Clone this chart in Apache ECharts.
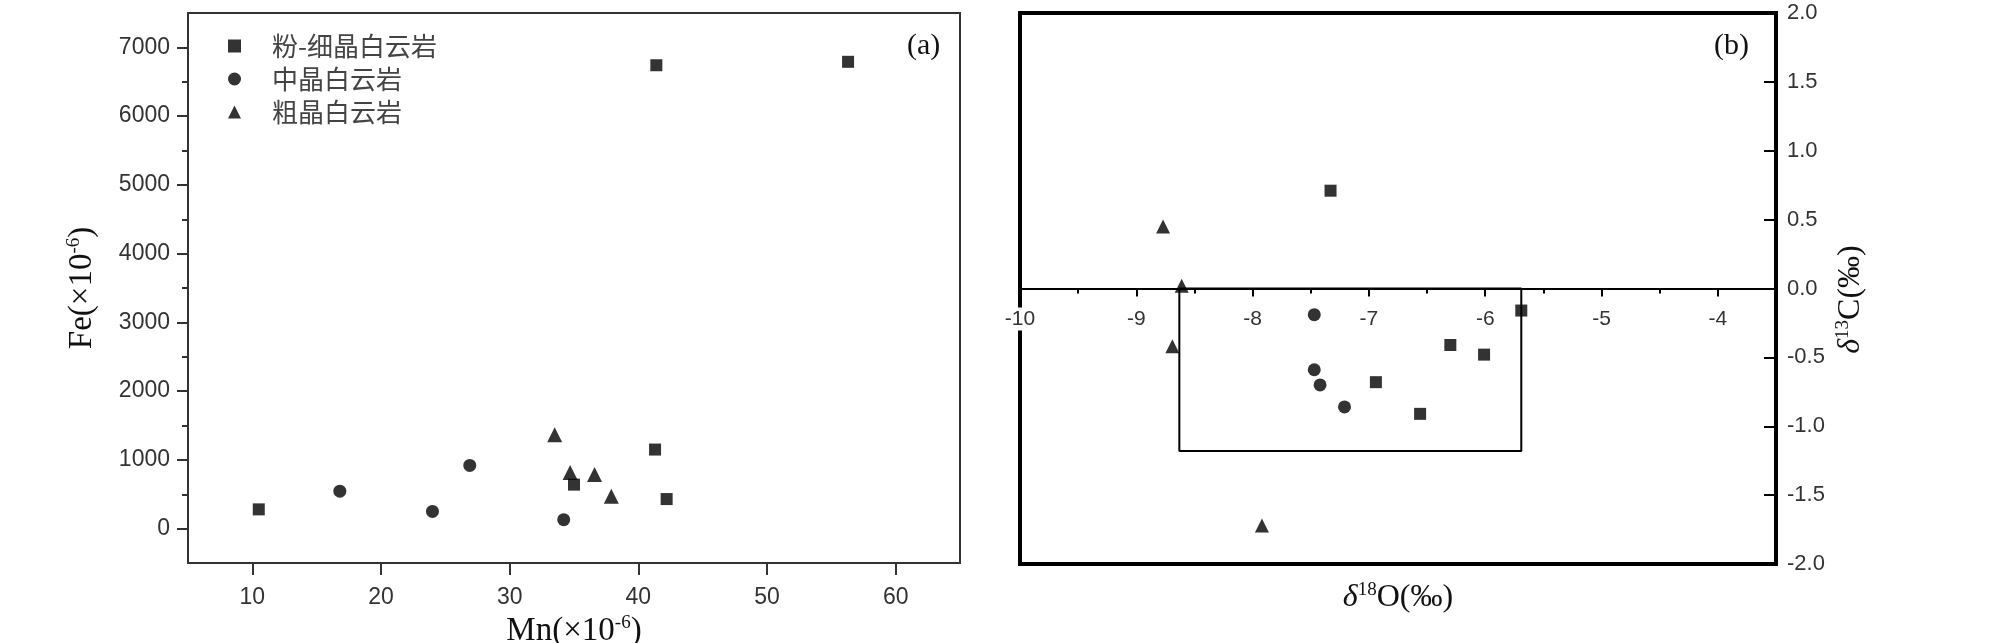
<!DOCTYPE html>
<html>
<head>
<meta charset="utf-8">
<script src="https://cdn.jsdelivr.net/npm/echarts@6/dist/echarts.min.js"></script>
<style>
  html, body { margin: 0; padding: 0; background: #fff; }
  #main { width: 2008px; height: 643px; }
</style>
</head>
<body>
<div id="main"></div>
<script>
// (a) Mn - Fe
var names = ['粉-细晶白云岩', '中晶白云岩', '粗晶白云岩'];
var mnSq = [41.4, 56.3, 41.3, 35.0, 42.2, 10.5];
var feSq = [6740, 6790, 1150, 640, 430, 280];
var mnCi = [16.8, 24.0, 26.9, 34.2];
var feCi = [545, 250, 920, 130];
var mnTr = [33.5, 34.7, 36.6, 37.9];
var feTr = [1366, 817, 787, 471];
var mnTicks = [10, 20, 30, 40, 50, 60];
var feTicks = [0, 1000, 2000, 3000, 4000, 5000, 6000, 7000];
var feMinor = [500, 1500, 2500, 3500, 4500, 5500, 6500];

// (b) d18O - d13C
var oSq = [-7.33, -5.69, -6.30, -6.01, -6.94, -6.56];
var cSq = [0.71, -0.16, -0.41, -0.48, -0.68, -0.91];
var oCi = [-7.47, -7.47, -7.42, -7.21];
var cCi = [-0.19, -0.59, -0.70, -0.86];
var oTr = [-8.77, -8.61, -8.69, -7.92];
var cTr = [0.45, 0.02, -0.42, -1.72];
var boxO = [-8.63, -8.63, -5.69, -5.69, -8.63];
var boxC = [0, -1.18, -1.18, 0, 0];
var oTicks = [-10, -9, -8, -7, -6, -5, -4];
var oMinor = [-9.5, -8.5, -7.5, -6.5, -5.5, -4.5];

function pts(xs, ys) {
    return xs.map(function(x, i) { return [x, ys[i]]; });
}

var serif = 'Liberation Serif';
var sans = 'Liberation Sans';
var supRich = {
    sup: { fontFamily: serif, fontSize: 19, verticalAlign: 'top', lineHeight: 34 },
    it: { fontFamily: serif, fontSize: 32, fontStyle: 'italic', lineHeight: 34 }
};
var hidden = { show: false };

var chart = echarts.init(document.getElementById('main'));
var option = {
    animation: false,
    backgroundColor: '#fff',
    title: [
        { text: '(a)', left: 902, top: 26, textStyle: { fontFamily: serif, fontSize: 30, fontWeight: 'normal', color: '#111' } },
        { text: '(b)', left: 1709, top: 26, textStyle: { fontFamily: serif, fontSize: 30, fontWeight: 'normal', color: '#111' } }
    ],
    legend: {
        orient: 'vertical',
        left: 228,
        top: 33,
        padding: 0,
        itemWidth: 13,
        itemHeight: 13,
        itemGap: 7,
        data: names,
        textStyle: { fontFamily: 'Noto Sans CJK SC', fontSize: 26, color: '#444', padding: [0, 0, 0, 26] }
    },
    grid: [
        { left: 188, top: 13, width: 772, height: 550, show: true, borderColor: '#333', borderWidth: 2, outerBoundsMode: 'none' },
        { left: 1020, top: 13, width: 756, height: 551, show: true, borderColor: '#000', borderWidth: 4, outerBoundsMode: 'none' },
        // strip whose bottom edge is the zero line of panel (b)
        { left: 1020, top: 13, width: 756, height: 275.5, show: false, outerBoundsMode: 'none' }
    ],
    xAxis: [
        {
            gridIndex: 0, type: 'value', min: 5, max: 65,
            name: 'Mn(×10{sup|-6})', nameLocation: 'middle', nameGap: 43,
            nameTextStyle: { fontFamily: serif, fontSize: 33, color: '#111', rich: supRich },
            axisLine: { onZero: false, lineStyle: { color: '#333', width: 2 } },
            axisTick: { customValues: mnTicks, length: 12, lineStyle: { color: '#333', width: 2 } },
            axisLabel: { customValues: mnTicks, margin: 23, fontFamily: sans, fontSize: 23, color: '#333' },
            splitLine: hidden
        },
        {
            gridIndex: 1, type: 'value', min: -10, max: -3.5, position: 'bottom',
            name: '{it|δ}{sup|18}O(‰)', nameLocation: 'middle', nameGap: 17,
            nameTextStyle: { fontFamily: serif, fontSize: 32, color: '#111', rich: supRich },
            axisLine: { show: false, onZero: false },
            axisTick: hidden,
            axisLabel: hidden,
            splitLine: hidden
        },
        {
            gridIndex: 2, type: 'value', min: -10, max: -3.5, position: 'bottom', z: 5,
            axisLine: { onZero: false, lineStyle: { color: '#000', width: 2 } },
            axisTick: { customValues: oTicks, length: 8, lineStyle: { color: '#000', width: 2 } },
            axisLabel: { customValues: oTicks, margin: 19, fontFamily: sans, fontSize: 21, color: '#333',
                backgroundColor: '#fff', padding: [1, 1] },
            splitLine: hidden
        },
        {
            gridIndex: 2, type: 'value', min: -10, max: -3.5, position: 'bottom',
            axisLine: { show: false, onZero: false },
            axisTick: { customValues: oMinor, length: 5, lineStyle: { color: '#000', width: 2 } },
            axisLabel: hidden,
            splitLine: hidden
        }
    ],
    yAxis: [
        {
            gridIndex: 0, type: 'value', min: -500, max: 7500, position: 'left',
            name: 'Fe(×10{sup|-6})', nameLocation: 'middle', nameGap: 89, nameRotate: 90,
            nameTextStyle: { fontFamily: serif, fontSize: 33, color: '#111', rich: supRich },
            axisLine: { show: true, onZero: false, lineStyle: { color: '#333', width: 2 } },
            axisTick: { customValues: feTicks, length: 11, lineStyle: { color: '#333', width: 2 } },
            axisLabel: { customValues: feTicks, margin: 18, fontFamily: sans, fontSize: 23, color: '#333',
                formatter: function(v) { return String(v); } },
            splitLine: hidden
        },
        {
            gridIndex: 0, type: 'value', min: -500, max: 7500, position: 'left',
            axisLine: { show: false, onZero: false },
            axisTick: { customValues: feMinor, length: 6, lineStyle: { color: '#333', width: 2 } },
            axisLabel: hidden,
            splitLine: hidden
        },
        {
            gridIndex: 1, type: 'value', min: -2, max: 2, interval: 0.5, position: 'right',
            name: '{it|δ}{sup|13}C(‰)', nameLocation: 'middle', nameGap: 58, nameRotate: 90,
            nameTextStyle: { fontFamily: serif, fontSize: 32, color: '#111', rich: supRich, padding: [0, 22, 0, 0] },
            axisLine: { show: true, onZero: false, lineStyle: { color: '#000', width: 4 } },
            axisTick: { inside: true, length: 12, lineStyle: { color: '#000', width: 2 } },
            axisLabel: { margin: 11, fontFamily: sans, fontSize: 22, color: '#333',
                formatter: function(v) { return v.toFixed(1); } },
            splitLine: hidden
        },
        { gridIndex: 2, type: 'value', min: 0, max: 1, show: false }
    ],
    series: [
        { name: names[0], type: 'scatter', xAxisIndex: 0, yAxisIndex: 0, symbol: 'rect', symbolSize: 12,
          itemStyle: { color: '#000' }, data: pts(mnSq, feSq) },
        { name: names[1], type: 'scatter', xAxisIndex: 0, yAxisIndex: 0, symbol: 'circle', symbolSize: 13,
          itemStyle: { color: '#000' }, data: pts(mnCi, feCi) },
        { name: names[2], type: 'scatter', xAxisIndex: 0, yAxisIndex: 0, symbol: 'triangle', symbolSize: 15,
          itemStyle: { color: '#000' }, data: pts(mnTr, feTr) },
        { type: 'line', xAxisIndex: 1, yAxisIndex: 2, symbol: 'none', silent: true,
          lineStyle: { color: '#000', width: 2 }, data: pts(boxO, boxC) },
        { name: names[0], type: 'scatter', xAxisIndex: 1, yAxisIndex: 2, symbol: 'rect', symbolSize: 12,
          itemStyle: { color: '#000' }, data: pts(oSq, cSq) },
        { name: names[1], type: 'scatter', xAxisIndex: 1, yAxisIndex: 2, symbol: 'circle', symbolSize: 13,
          itemStyle: { color: '#000' }, data: pts(oCi, cCi) },
        { name: names[2], type: 'scatter', xAxisIndex: 1, yAxisIndex: 2, symbol: 'triangle', symbolSize: 14,
          itemStyle: { color: '#000' }, data: pts(oTr, cTr) }
    ]
};
chart.setOption(option);
</script>
</body>
</html>
